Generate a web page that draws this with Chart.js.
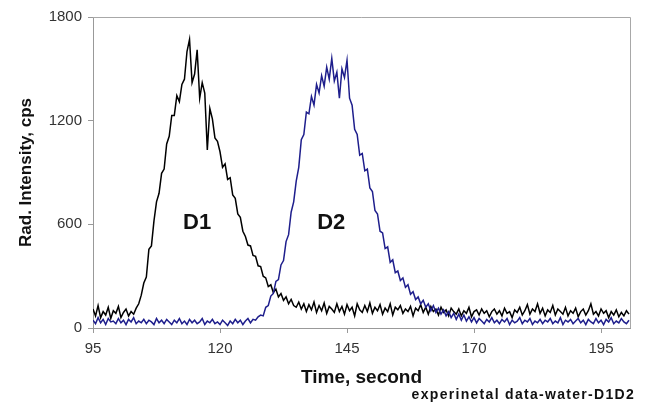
<!DOCTYPE html>
<html>
<head>
<meta charset="utf-8">
<script src="https://cdn.jsdelivr.net/npm/chart.js@4.4.1/dist/chart.umd.min.js"></script>
<style>
  html, body { margin: 0; padding: 0; background: #fff; }
  canvas { display: block; }
</style>
</head>
<body>
<canvas id="radChart" width="648" height="403"></canvas>
<script>
// detector sample times, second
const times = [
  95, 95.5, 96, 96.5, 97, 97.5, 98, 98.5, 99, 99.5,
  100, 100.5, 101, 101.5, 102, 102.5, 103, 103.5, 104, 104.5,
  105, 105.5, 106, 106.5, 107, 107.5, 108, 108.5, 109, 109.5,
  110, 110.5, 111, 111.5, 112, 112.5, 113, 113.5, 114, 114.5,
  115, 115.5, 116, 116.5, 117, 117.5, 118, 118.5, 119, 119.5,
  120, 120.5, 121, 121.5, 122, 122.5, 123, 123.5, 124, 124.5,
  125, 125.5, 126, 126.5, 127, 127.5, 128, 128.5, 129, 129.5,
  130, 130.5, 131, 131.5, 132, 132.5, 133, 133.5, 134, 134.5,
  135, 135.5, 136, 136.5, 137, 137.5, 138, 138.5, 139, 139.5,
  140, 140.5, 141, 141.5, 142, 142.5, 143, 143.5, 144, 144.5,
  145, 145.5, 146, 146.5, 147, 147.5, 148, 148.5, 149, 149.5,
  150, 150.5, 151, 151.5, 152, 152.5, 153, 153.5, 154, 154.5,
  155, 155.5, 156, 156.5, 157, 157.5, 158, 158.5, 159, 159.5,
  160, 160.5, 161, 161.5, 162, 162.5, 163, 163.5, 164, 164.5,
  165, 165.5, 166, 166.5, 167, 167.5, 168, 168.5, 169, 169.5,
  170, 170.5, 171, 171.5, 172, 172.5, 173, 173.5, 174, 174.5,
  175, 175.5, 176, 176.5, 177, 177.5, 178, 178.5, 179, 179.5,
  180, 180.5, 181, 181.5, 182, 182.5, 183, 183.5, 184, 184.5,
  185, 185.5, 186, 186.5, 187, 187.5, 188, 188.5, 189, 189.5,
  190, 190.5, 191, 191.5, 192, 192.5, 193, 193.5, 194, 194.5,
  195, 195.5, 196, 196.5, 197, 197.5, 198, 198.5, 199, 199.5,
  200, 200.5
];

// D1 (black), cps
const d1Counts = [
  110, 70, 130, 60, 95, 75, 120, 55, 100, 85,
  125, 60, 90, 110, 70, 95, 80, 115, 140, 190,
  260, 295, 455, 475, 620, 730, 780, 895, 920, 1065,
  1110, 1230, 1230, 1345, 1310, 1410, 1440, 1600, 1670, 1420,
  1470, 1610, 1330, 1420, 1360, 1030, 1270, 1210, 1100, 1080,
  1020, 930, 950, 860, 870, 770, 750, 660, 640, 560,
  530, 480, 475, 420, 415, 360, 355, 300, 290, 240,
  250, 205, 225, 180, 200, 160, 180, 140, 165, 130,
  120, 150, 110, 140, 95, 135, 105, 150, 90, 130,
  100, 145, 85, 125, 110, 90, 140, 95, 125, 80,
  135, 100, 120, 70, 140, 105, 90, 130, 95, 145,
  85, 120, 100, 135, 80, 115, 95, 140, 75, 120,
  105, 130, 85, 110, 95, 125, 70, 115, 100, 135,
  90, 120, 80, 125, 95, 110, 75, 120, 90, 105,
  70, 115, 95, 80, 110, 70, 100, 85, 120, 65,
  95, 105, 75, 110, 85, 100, 65, 95, 110, 80,
  100, 70, 115, 85, 95, 60, 105, 90, 120, 75,
  100, 135, 80, 110, 95, 140, 85, 115, 70, 105,
  90, 130, 75, 110, 95, 80, 120, 70, 100, 85,
  115, 65, 95, 110, 75, 100, 140, 80, 95, 70,
  110, 85, 100, 60, 95, 75, 105, 65, 90, 70,
  100, 80
];

// D2 (blue), cps
const d2Counts = [
  45, 25, 60, 30, 50, 20, 55, 35, 40, 25,
  55, 30, 45, 20, 50, 35, 60, 25, 40, 30,
  50, 25, 45, 35, 20, 55, 30, 45, 25, 50,
  35, 20, 45, 30, 55, 25, 40, 20, 50, 30,
  45, 25, 35, 55, 20, 40, 30, 50, 25, 35,
  20, 45, 30, 15, 40, 25, 50, 30, 45, 20,
  40, 55, 30, 50, 45, 65, 75, 70, 120, 130,
  185, 200, 270, 280, 365, 390, 500, 540, 670, 730,
  850, 930, 1090, 1120, 1250, 1240, 1340, 1290, 1410, 1360,
  1460, 1400, 1510, 1440, 1560, 1430, 1480, 1330, 1500, 1450,
  1550, 1330, 1290, 1150, 1120, 1000, 1010, 910, 920, 810,
  790, 680, 660, 560, 550, 460, 470, 380, 395, 320,
  330, 275, 290, 235, 250, 195, 210, 165, 180, 140,
  160, 120, 140, 100, 130, 90, 115, 80, 105, 70,
  95, 60, 85, 50, 80, 45, 75, 40, 65, 35,
  60, 30, 55, 40, 25, 50, 35, 60, 30, 45,
  25, 50, 35, 55, 20, 45, 30, 40, 60, 25,
  45, 35, 55, 20, 40, 30, 50, 25, 45, 35,
  55, 25, 40, 30, 60, 20, 45, 35, 50, 25,
  40, 55, 30, 45, 20, 50, 35, 25, 55, 30,
  45, 20, 50, 35, 60, 25, 40, 30, 55, 35,
  25, 45
];

const xTickValues = [95, 120, 145, 170, 195];
const yTickValues = [0, 600, 1200, 1800];

// peak labels, placed in data units
const peakNames = ['D1', 'D2'];
const peakTimes = [115.5, 141.9];
const peakCounts = [610, 610];

const fontFamily = "'Liberation Sans', Arial, sans-serif";
Chart.defaults.font.family = fontFamily;

const toPoints = (values) => values.map((v, i) => ({ x: times[i], y: v }));

// box on top/right, peak names and the caption under the axis title
const chartExtras = {
  id: 'chartExtras',
  afterDraw(chart) {
    const { ctx, chartArea, scales } = chart;
    ctx.save();
    ctx.strokeStyle = '#a8a8a8';
    ctx.lineWidth = 1;
    ctx.beginPath();
    ctx.moveTo(chartArea.left, chartArea.top + 0.5);
    ctx.lineTo(chartArea.right + 0.5, chartArea.top + 0.5);
    ctx.lineTo(chartArea.right + 0.5, chartArea.bottom);
    ctx.stroke();

    ctx.fillStyle = '#111';
    ctx.font = `bold 22px ${fontFamily}`;
    ctx.textAlign = 'center';
    ctx.textBaseline = 'middle';
    peakNames.forEach((name, i) => {
      ctx.fillText(name, scales.x.getPixelForValue(peakTimes[i]), scales.y.getPixelForValue(peakCounts[i]));
    });

    ctx.font = `bold 14px ${fontFamily}`;
    ctx.letterSpacing = '1.3px';
    ctx.textAlign = 'right';
    ctx.textBaseline = 'alphabetic';
    ctx.fillText('experinetal data-water-D1D2', 635, 399);
    ctx.restore();
  }
};

new Chart(document.getElementById('radChart'), {
  type: 'line',
  data: {
    datasets: [
      {
        label: 'D1',
        data: toPoints(d1Counts),
        borderColor: '#000000',
        borderWidth: 1.5,
        pointRadius: 0,
        tension: 0,
        order: 1
      },
      {
        label: 'D2',
        data: toPoints(d2Counts),
        borderColor: '#1e1e8c',
        borderWidth: 1.5,
        pointRadius: 0,
        tension: 0,
        order: 0
      }
    ]
  },
  options: {
    responsive: false,
    animation: false,
    layout: { padding: { left: 0, top: 17, right: 18, bottom: 0 } },
    plugins: {
      legend: { display: false },
      tooltip: { enabled: false }
    },
    scales: {
      x: {
        type: 'linear',
        min: 95,
        max: 200.7,
        afterBuildTicks: (scale) => { scale.ticks = xTickValues.map(v => ({ value: v })); },
        afterFit: (scale) => { scale.height = 75; },
        grid: { drawOnChartArea: false, drawTicks: true, tickLength: 5, color: '#999' },
        border: { color: '#999', width: 1 },
        ticks: { color: '#333', padding: 7, font: { size: 15 }, maxRotation: 0, callback: (v) => String(v) },
        title: {
          display: true,
          text: 'Time, second',
          color: '#111',
          font: { size: 19, weight: 'bold' },
          padding: { top: 0, bottom: 14 }
        }
      },
      y: {
        min: 0,
        max: 1800,
        afterBuildTicks: (scale) => { scale.ticks = yTickValues.map(v => ({ value: v })); },
        afterFit: (scale) => { scale.width = 93; },
        grid: { drawOnChartArea: false, drawTicks: true, tickLength: 5, color: '#999' },
        border: { color: '#999', width: 1 },
        ticks: { color: '#333', padding: 6, font: { size: 15 }, callback: (v) => String(v) },
        title: {
          display: true,
          text: 'Rad. Intensity, cps',
          color: '#111',
          font: { size: 17, weight: 'bold' },
          padding: { top: 16, bottom: 0 }
        }
      }
    }
  },
  plugins: [chartExtras]
});
</script>
</body>
</html>
